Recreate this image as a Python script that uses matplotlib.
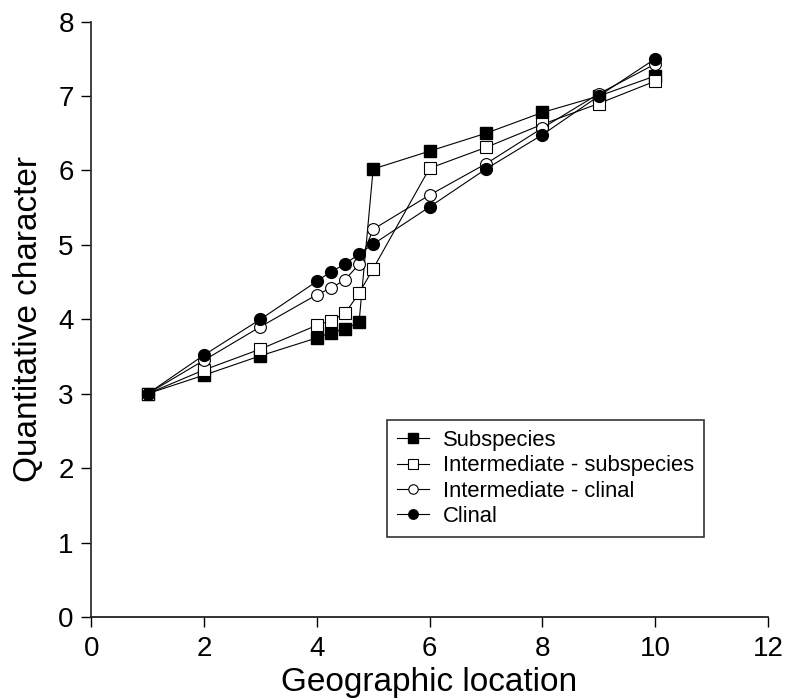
import numpy as np
import matplotlib
matplotlib.use("Agg")
import matplotlib.pyplot as plt

plt.rcParams['font.family'] = ['Liberation Sans', 'DejaVu Sans']

x = [1, 2, 3, 4, 4.25, 4.5, 4.75, 5, 6, 7, 8, 9, 10]

subspecies = [3.0, 3.25, 3.51, 3.75, 3.82, 3.87, 3.96, 6.02, 6.26, 6.5, 6.78, 7.0, 7.27]
inter_sub = [3.0, 3.32, 3.6, 3.92, 3.98, 4.08, 4.35, 4.68, 6.03, 6.31, 6.62, 6.9, 7.2]
inter_clinal = [3.0, 3.45, 3.9, 4.33, 4.42, 4.53, 4.74, 5.21, 5.67, 6.09, 6.57, 7.03, 7.43]
clinal = [3.0, 3.52, 4.0, 4.51, 4.64, 4.74, 4.88, 5.01, 5.51, 6.02, 6.48, 7.0, 7.5]

labels = ['Subspecies', 'Intermediate - subspecies', 'Intermediate - clinal', 'Clinal']

fig = plt.figure(figsize=(7.86, 6.98), dpi=100)
# axes box: x 91..768 px, y 22..617 px
ax = fig.add_axes([0.116, 0.116, 0.861, 0.853])

ax.plot(x, subspecies, '-s', color='black', lw=0.8, ms=8.5, mfc='black', mec='black', label=labels[0])
ax.plot(x, inter_sub, '-s', color='black', lw=0.8, ms=8.5, mfc='white', mec='black', mew=0.8, label=labels[1])
ax.plot(x, inter_clinal, '-o', color='black', lw=0.8, ms=8.5, mfc='white', mec='black', mew=0.8, label=labels[2])
ax.plot(x, clinal, '-o', color='black', lw=0.8, ms=8.5, mfc='black', mec='black', label=labels[3])

ax.set_xlim(0, 12)
ax.set_ylim(0, 8)
ax.set_xticks(np.arange(0, 13, 2))
ax.set_yticks(np.arange(0, 9, 1))
ax.spines['top'].set_visible(False)
ax.spines['right'].set_visible(False)
ax.spines['left'].set_linewidth(1.3)
ax.spines['bottom'].set_linewidth(1.3)
ax.spines['left'].set_color('#333333')
ax.spines['bottom'].set_color('#222222')
ax.tick_params(direction='out', length=7.5, width=1.0, labelsize=20)
ax.tick_params(axis='y', pad=5)
ax.tick_params(axis='x', pad=6)
ax.set_xlabel('Geographic location', fontsize=24, labelpad=4)
ax.set_ylabel('Quantitative character', fontsize=24)
ax.yaxis.set_label_coords(-0.069, 0.5)

leg = ax.legend(loc='upper left', bbox_to_anchor=(0.437, 0.331), fontsize=15.8,
                handlelength=1.45, handletextpad=0.65, labelspacing=0.2,
                frameon=True, fancybox=False, borderpad=0.45, borderaxespad=0,
                markerscale=0.8)
leg.get_frame().set_edgecolor('black')
leg.get_frame().set_linewidth(1.2)

fig.savefig('out.png', dpi=100)
